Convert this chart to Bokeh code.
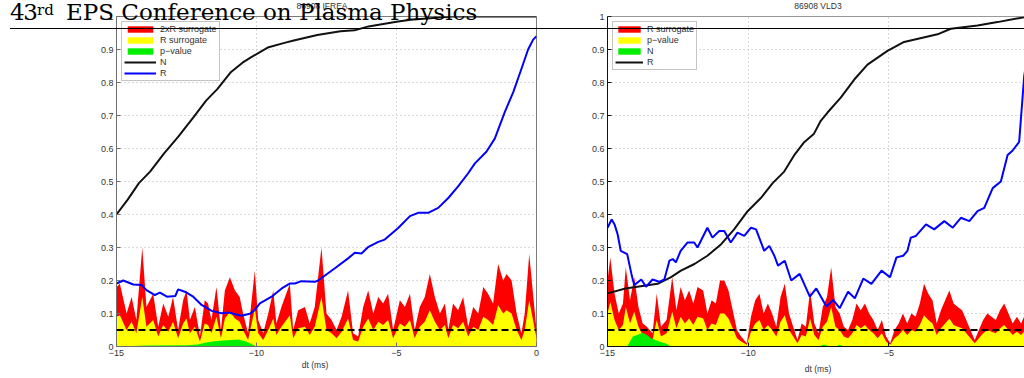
import numpy as np
from bokeh.plotting import figure
from bokeh.layouts import row, column
from bokeh.models import Range1d, FixedTicker, Span, Legend, LegendItem, Div
from bokeh.embed import file_html
from bokeh.resources import INLINE

# ---------------- data : left panel (86908 IFREA) ----------------
L_surr_x = [-15.0, -14.88, -14.64, -14.46, -14.29, -14.08, -13.93, -13.69, -13.51, -13.33,
            -13.15, -12.98, -12.8, -12.62, -12.5, -12.38, -12.2, -12.02, -11.85, -11.73,
            -11.61, -11.43, -11.27, -11.13, -10.95, -10.77, -10.6, -10.48, -10.3, -10.06,
            -9.94, -9.76, -9.58, -9.4, -9.29, -9.11, -8.81, -8.69, -8.51, -8.27,
            -8.1, -7.92, -7.68, -7.5, -7.32, -7.14, -6.96, -6.73, -6.55, -6.37,
            -6.19, -6.01, -5.83, -5.65, -5.48, -5.3, -5.12, -4.88, -4.7, -4.52,
            -4.35, -4.17, -3.99, -3.81, -3.63, -3.45, -3.27, -3.15, -2.98, -2.8,
            -2.62, -2.44, -2.26, -2.08, -1.9, -1.73, -1.55, -1.37, -1.19, -1.07,
            -0.89, -0.71, -0.54, -0.42, -0.26, 0.0]
L_surr_2xR = [0.18, 0.19, 0.10, 0.15, 0.08, 0.30, 0.12, 0.16, 0.06, 0.13,
              0.09, 0.15, 0.05, 0.14, 0.17, 0.08, 0.12, 0.03, 0.14, 0.13,
              0.08, 0.18, 0.05, 0.17, 0.21, 0.17, 0.15, 0.10, 0.04, 0.23,
              0.08, 0.04, 0.10, 0.17, 0.07, 0.12, 0.19, 0.05, 0.11, 0.12,
              0.07, 0.12, 0.30, 0.10, 0.08, 0.05, 0.09, 0.17, 0.04, 0.03,
              0.12, 0.17, 0.10, 0.15, 0.13, 0.16, 0.05, 0.14, 0.12, 0.16,
              0.05, 0.12, 0.15, 0.22, 0.15, 0.10, 0.13, 0.05, 0.13, 0.11,
              0.15, 0.06, 0.12, 0.10, 0.18, 0.16, 0.13, 0.25, 0.20, 0.22,
              0.20, 0.10, 0.04, 0.10, 0.28, 0.05]
L_p_x = [-15.0, -13.9, -12.5, -12.1, -11.8, -11.5, -11.2, -10.9, -10.65, -10.4, -10.2, -10.0, 0.0]
L_p = [0.0, 0.003, 0.004, 0.006, 0.012, 0.016, 0.018, 0.020, 0.021, 0.016, 0.008, 0.0, 0.0]
L_N_x = [-15.0, -14.6, -14.2, -13.8, -13.3, -12.8, -12.24, -11.8, -11.4, -10.93, -10.5, -10.2,
         -9.6, -9.0, -8.67, -7.83, -7.0, -6.5, -6.0, -5.0, -4.5, -3.8, -3.0, 0.0]
L_N = [0.40, 0.445, 0.495, 0.53, 0.585, 0.635, 0.696, 0.745, 0.78, 0.83, 0.86, 0.876,
       0.906, 0.92, 0.927, 0.944, 0.955, 0.958, 0.97, 0.984, 0.99, 0.995, 1.0, 1.0]
L_R_x = [-15.0, -14.76, -14.4, -14.1, -13.93, -13.63, -13.45, -13.2, -12.9, -12.8, -12.56,
         -12.26, -11.96, -11.6, -11.25, -11.0, -10.54, -10.24, -10.06, -9.88, -9.46, -9.1,
         -8.8, -8.63, -8.4, -7.92, -7.8, -7.2, -6.73, -6.49, -6.25, -6.0, -5.65, -5.42,
         -4.94, -4.52, -4.23, -3.87, -3.51, -3.15, -2.8, -2.44, -2.2, -1.79, -1.49, -1.13,
         -0.83, -0.54, -0.3, -0.12, 0.0]
L_R = [0.191, 0.20, 0.188, 0.186, 0.171, 0.156, 0.163, 0.151, 0.153, 0.173, 0.166,
       0.151, 0.126, 0.108, 0.101, 0.103, 0.093, 0.099, 0.111, 0.131, 0.151, 0.176,
       0.191, 0.191, 0.198, 0.196, 0.20, 0.237, 0.267, 0.284, 0.282, 0.302, 0.317, 0.324,
       0.359, 0.395, 0.405, 0.405, 0.42, 0.45, 0.485, 0.525, 0.555, 0.59, 0.63, 0.711,
       0.771, 0.841, 0.90, 0.93, 0.94]

# ---------------- data : right panel (86908 VLD3) ----------------
R_surr_x = [-15.0, -14.9, -14.75, -14.6, -14.45, -14.35, -14.2, -14.05, -13.9, -13.75,
            -13.6, -13.4, -13.25, -13.1, -12.9, -12.7, -12.55, -12.4, -12.25, -12.1,
            -11.95, -11.8, -11.6, -11.45, -11.3, -11.15, -11.0, -10.85, -10.7, -10.55,
            -10.4, -10.25, -10.05, -9.9, -9.75, -9.6, -9.45, -9.3, -9.15, -9.0,
            -8.85, -8.7, -8.55, -8.4, -8.25, -8.1, -7.95, -7.8, -7.65, -7.5,
            -7.35, -7.2, -7.05, -6.9, -6.75, -6.6, -6.45, -6.3, -6.15, -6.0,
            -5.85, -5.7, -5.55, -5.4, -5.25, -5.1, -4.95, -4.8, -4.65, -4.5,
            -4.35, -4.2, -4.05, -3.9, -3.75, -3.6, -3.45, -3.3, -3.15, -3.0,
            -2.85, -2.7, -2.55, -2.4, -2.25, -2.1, -1.95, -1.8, -1.65, -1.5,
            -1.35, -1.2, -1.05, -0.9, -0.75, -0.6, -0.45, -0.3, -0.15, 0.0]
R_surr_2x = [0.20, 0.27, 0.16, 0.10, 0.13, 0.24, 0.14, 0.21, 0.12, 0.07,
             0.06, 0.04, 0.16, 0.06, 0.08, 0.21, 0.11, 0.18, 0.14, 0.17,
             0.13, 0.18, 0.17, 0.10, 0.14, 0.13, 0.20, 0.20, 0.17, 0.11,
             0.05, 0.03, 0.01, 0.09, 0.14, 0.16, 0.10, 0.13, 0.10, 0.06,
             0.15, 0.19, 0.10, 0.06, 0.02, 0.07, 0.06, 0.17, 0.07, 0.04,
             0.12, 0.15, 0.24, 0.12, 0.10, 0.06, 0.05, 0.08, 0.13, 0.11,
             0.13, 0.10, 0.08, 0.05, 0.08, 0.03, 0.01, 0.05, 0.07, 0.10,
             0.07, 0.10, 0.09, 0.13, 0.19, 0.16, 0.14, 0.07, 0.11, 0.14,
             0.17, 0.13, 0.12, 0.11, 0.08, 0.05, 0.02, 0.05, 0.08, 0.10,
             0.09, 0.08, 0.11, 0.13, 0.10, 0.07, 0.09, 0.07, 0.10, 0.08]
R_p_x = [-15.0, -14.3, -14.1, -13.95, -13.75, -13.6, -13.45, -13.3, -13.1, -12.9, -12.75,
         -7.5, -7.3, -7.1, -6.9, -6.75, -6.6, 0.0]
R_p = [0.0, 0.0, 0.030, 0.035, 0.042, 0.035, 0.025, 0.020, 0.014, 0.008, 0.0,
       0.0, 0.006, 0.0, 0.0, 0.005, 0.0, 0.0]
R_N_x = [-15.0, -14.36, -13.22, -12.74, -12.39, -11.91, -11.45, -10.96, -10.5, -10.02, -9.55,
         -9.13, -8.72, -8.37, -8.01, -7.66, -7.42, -7.18, -6.71, -6.23, -5.76, -5.05, -4.46,
         -3.27, -2.8, -1.85, -1.14, -0.19, 0.0]
R_N = [0.161, 0.176, 0.19, 0.21, 0.23, 0.25, 0.275, 0.31, 0.355, 0.41, 0.45,
       0.495, 0.53, 0.579, 0.619, 0.645, 0.684, 0.709, 0.754, 0.809, 0.854, 0.896, 0.923,
       0.946, 0.963, 0.973, 0.983, 0.998, 1.0]
R_R_x = [-15.0, -14.85, -14.75, -14.64, -14.53, -14.3, -14.15, -14.05, -13.8, -13.63, -13.4,
         -13.16, -12.98, -12.8, -12.68, -12.57, -12.4, -12.16, -11.92, -11.8, -11.45, -11.27,
         -11.03, -10.85, -10.62, -10.38, -10.14, -9.9, -9.72, -9.43, -9.25, -9.07, -8.94,
         -8.7, -8.47, -8.17, -7.81, -7.58, -7.22, -6.98, -6.75, -6.45, -6.21, -5.91, -5.62,
         -5.26, -4.96, -4.73, -4.49, -4.34, -4.22, -4.04, -3.68, -3.39, -3.03, -2.73, -2.44,
         -2.14, -1.85, -1.61, -1.31, -1.02, -0.78, -0.6, -0.37, -0.19, 0.0]
R_R = [0.36, 0.385, 0.37, 0.34, 0.29, 0.28, 0.22, 0.186, 0.203, 0.181, 0.203,
       0.196, 0.203, 0.26, 0.265, 0.255, 0.29, 0.315, 0.315, 0.30, 0.36, 0.33,
       0.35, 0.35, 0.315, 0.345, 0.335, 0.36, 0.355, 0.29, 0.305, 0.275, 0.245,
       0.26, 0.20, 0.22, 0.151, 0.176, 0.121, 0.141, 0.116, 0.166, 0.146, 0.206, 0.19,
       0.23, 0.21, 0.27, 0.275, 0.29, 0.33, 0.335, 0.37, 0.355, 0.38, 0.36, 0.39,
       0.38, 0.41, 0.42, 0.48, 0.50, 0.58, 0.594, 0.62, 0.82, 0.92]

P_THRESHOLD = 0.05
XTICKS = [-15, -10, -5, 0]
XTICK_LABELS = ["\u221215", "\u221210", "\u22125", "0"]
YTICKS = [0, 0.1, 0.2, 0.3, 0.4, 0.5, 0.6, 0.7, 0.8, 0.9, 1]
YTICK_LABELS = ["0", "0.1", "0.2", "0.3", "0.4", "0.5", "0.6", "0.7", "0.8", "0.9", "1"]
TITLES = ["86908 IFREA", "86908 VLD3"]
XLABEL = "dt (ms)"
HEADER = ("43", "rd", "EPS Conference on Plasma Physics")

FONT = "Liberation Sans"
TXT = "#333333"
RED, YEL, GRN, BLU, BLK = "#ff0000", "#ffff00", "#00ee00", "#0000ff", "#111111"


def base_fig(width, height, x_end, bl, br, bt, bb, axis_color):
    p = figure(width=width, height=height, x_range=Range1d(-15, x_end), y_range=Range1d(0, 1),
               output_backend="svg", toolbar_location=None,
               min_border_left=bl, min_border_right=br, min_border_top=bt, min_border_bottom=bb)
    p.xaxis.ticker = FixedTicker(ticks=XTICKS)
    p.xaxis.major_label_overrides = {t: s for t, s in zip(XTICKS, XTICK_LABELS)}
    p.yaxis.ticker = FixedTicker(ticks=YTICKS)
    p.yaxis.major_label_overrides = {t: s for t, s in zip(YTICKS, YTICK_LABELS)}
    for ax in (p.xaxis[0], p.yaxis[0]):
        ax.major_tick_in = 4
        ax.major_tick_out = 0
        ax.minor_tick_in = 0
        ax.minor_tick_out = 0
        ax.axis_line_color = axis_color
        ax.major_tick_line_color = axis_color
        ax.major_label_text_font = FONT
        ax.major_label_text_font_size = "9px"
        ax.major_label_text_color = TXT
        ax.major_label_standoff = 3
    p.grid.grid_line_color = "#b5b5b5"
    p.grid.grid_line_dash = "1 3"
    p.grid.grid_line_width = 1
    return p


def panel(p, sx, s2x, px, pv, nx, nv, rx, rv, labels, include_R, glyph_w):
    r_red = p.varea(x=sx, y1=0, y2=s2x, fill_color=RED)
    r_yel = p.varea(x=sx, y1=0, y2=[v / 2.0 for v in s2x], fill_color=YEL)   # R surrogate = (2xR)/2
    r_grn = p.varea(x=px, y1=0, y2=pv, fill_color=GRN)
    p.add_layout(Span(location=P_THRESHOLD, dimension="width", line_color="black",
                      line_width=2, line_dash="7 4"))
    r_n = p.line(nx, nv, line_color=BLK, line_width=2)
    r_r = p.line(rx, rv, line_color=BLU, line_width=2)
    rends = [r_red, r_yel, r_grn, r_n] + ([r_r] if include_R else [])
    items = [LegendItem(label=lab, renderers=[rr]) for lab, rr in zip(labels, rends)]
    leg = Legend(items=items, location="top_left", margin=5, padding=2, spacing=1,
                 glyph_width=glyph_w, glyph_height=8, label_height=9, label_standoff=4,
                 label_text_font=FONT, label_text_font_size="9px", label_text_color=TXT,
                 border_line_color="#8a8a8a", border_line_width=1)
    p.add_layout(leg)


H = 378
# left panel: frame 116..536 (page x), 15..346 (page y)
pL = base_fig(560, H, 0, 116, 24, 15, 32, "#6e6e6e")
pL.outline_line_color = "#7a7a7a"
pL.outline_line_width = 1
panel(pL, L_surr_x, L_surr_2xR, L_p_x, L_p, L_N_x, L_N, L_R_x, L_R,
      ["2xR surrogate", "R surrogate", "p\u2212value", "N", "R"], True, 32)

# right panel: frame 607..1024 (page x, cut at the page edge), 16..350 (page y)
pR = base_fig(464, H, -0.18, 47, 0, 16, 28, "#111111")
pR.outline_line_color = None
pR.add_layout(Span(location=1, dimension="width", line_color="#333333", line_width=1))
panel(pR, R_surr_x, R_surr_2x, R_p_x, R_p, R_N_x, R_N, R_R_x, R_R,
      ["R surrogate", "p\u2212value", "N", "R"], False, 28)

# ---- texts outside the plot frames (titles, x labels, page header) as an overlay ----
def span(x, y, text, css):
    return (f'<div style="position:absolute;left:{x}px;top:{y}px;white-space:nowrap;'
            f'line-height:1;{css}">{text}</div>')

sans = f"font-family:'{FONT}';font-size:8.5px;color:{TXT};transform:translateX(-50%);"
serif = "font-family:'DejaVu Serif';color:#000;"
parts = [
    span(322, 2.3, TITLES[0], sans),
    span(818, 2.1, TITLES[1], sans),
    span(315, 360.5, XLABEL, sans),
    span(818, 364.5, XLABEL, sans),
    span(10, 0.6, HEADER[0], serif + "font-size:23px;letter-spacing:-1.5px;"),
    span(37, 3.2, HEADER[1], serif + "font-size:15px;"),
    span(66, 0.6, HEADER[2], serif + "font-size:23px;"),
    '<div style="position:absolute;left:10px;top:27.7px;width:1014px;height:0;'
    'border-top:1.2px solid #000;"></div>',
]
overlay = Div(text='<div style="position:relative;width:1024px;height:378px;">' + "".join(parts) + "</div>",
              width=1024, height=H, margin=(-H, 0, 0, 0), styles={"overflow": "visible"})

layout = column(row(pL, pR), overlay)
open("out.html", "w").write(file_html(layout, INLINE))
